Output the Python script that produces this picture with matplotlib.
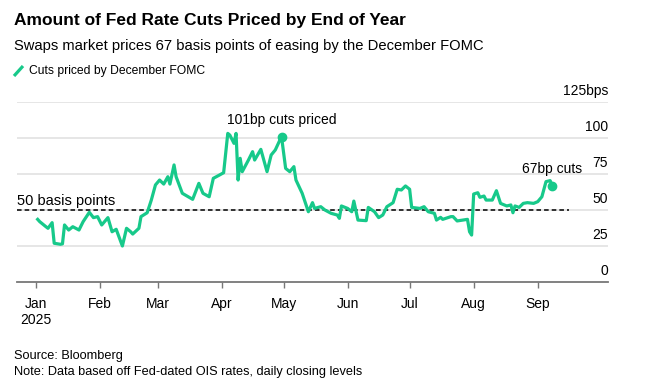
import numpy as np
import pandas as pd
import matplotlib
matplotlib.use("Agg")
import matplotlib.pyplot as plt
import matplotlib.transforms as mtransforms
from matplotlib.lines import Line2D

plt.rcParams['font.family'] = ['Liberation Sans', 'DejaVu Sans']

# daily closing levels (bp of cuts priced by Dec FOMC)
dates = [
    '2025-01-02', '2025-01-03', '2025-01-06', '2025-01-07', '2025-01-09', '2025-01-10',
    '2025-01-13', '2025-01-14', '2025-01-15', '2025-01-17', '2025-01-19', '2025-01-22',
    '2025-01-24', '2025-01-27', '2025-01-29', '2025-01-31',
    '2025-02-02', '2025-02-05', '2025-02-07', '2025-02-09', '2025-02-12', '2025-02-14',
    '2025-02-16', '2025-02-17', '2025-02-20', '2025-02-21', '2025-02-24', '2025-02-26',
    '2025-02-28',
    '2025-03-02', '2025-03-04', '2025-03-06', '2025-03-07', '2025-03-09', '2025-03-10',
    '2025-03-13', '2025-03-18', '2025-03-21', '2025-03-23', '2025-03-26', '2025-03-28',
    '2025-03-31',
    '2025-04-02', '2025-04-04', '2025-04-05', '2025-04-07', '2025-04-08', '2025-04-09',
    '2025-04-10', '2025-04-11', '2025-04-14', '2025-04-16', '2025-04-17', '2025-04-20',
    '2025-04-23', '2025-04-25', '2025-04-27', '2025-04-30',
    '2025-05-02', '2025-05-04', '2025-05-06', '2025-05-07', '2025-05-10', '2025-05-13',
    '2025-05-15', '2025-05-16', '2025-05-19', '2025-05-21', '2025-05-24', '2025-05-27',
    '2025-05-28', '2025-05-29',
    '2025-06-01', '2025-06-03', '2025-06-04', '2025-06-06', '2025-06-10', '2025-06-11',
    '2025-06-14', '2025-06-16', '2025-06-18', '2025-06-20', '2025-06-23', '2025-06-25',
    '2025-06-27', '2025-06-29',
    '2025-07-01', '2025-07-02', '2025-07-06', '2025-07-08', '2025-07-10', '2025-07-13',
    '2025-07-14', '2025-07-16', '2025-07-17', '2025-07-21', '2025-07-22', '2025-07-24',
    '2025-07-29', '2025-07-30', '2025-07-31',
    '2025-08-01', '2025-08-03', '2025-08-04', '2025-08-06', '2025-08-07', '2025-08-10',
    '2025-08-12', '2025-08-14', '2025-08-17', '2025-08-19', '2025-08-20', '2025-08-21',
    '2025-08-23', '2025-08-25', '2025-08-27', '2025-08-30',
    '2025-09-01', '2025-09-03', '2025-09-05', '2025-09-07', '2025-09-08',
]
cuts = [
    43.5, 41.9, 38.4, 37.3, 41.2, 26.9, 26.2, 26.5, 39.6, 36.1, 38.4, 36.1, 41.9, 48.4, 44.7, 45.4,
    39.6, 44.7, 34.9, 36.6, 25, 37.3, 34.9, 33.3, 37.3, 45.4, 48.1, 56.9, 67.4,
    70.8, 68, 73.1, 68, 81.3, 73.1, 61.6, 57.4, 68.5, 61.6, 59.2, 72, 74.3,
    75.9, 103.2, 102, 96.3, 103.2, 70.8, 85.9, 76.6, 84.7, 90.5, 84.7, 92.1, 76.6, 88.2, 91.7, 101,
    78.9, 76.6, 80.1, 70.8, 61.6, 48.8, 55.1, 51.1, 52.3, 50, 47.7, 46.5, 44.2, 52.8,
    51.1, 48.8, 56.2, 43, 42.6, 51.8, 48.8, 44.7, 46.5, 52.3, 55.1, 64.4, 63.9, 66.7,
    64.4, 51.8, 51.1, 52.3, 48.8, 47.7, 43, 44.9, 43.5, 45.4, 45.4, 42.4, 43.5, 34.9, 32.6,
    61.1, 62, 58.8, 59.7, 56.9, 56.9, 63.4, 54.6, 52.8, 53.5, 48.1, 52.8, 51.8, 54.6, 55.1, 54.6,
    55.8, 59.2, 69.7, 70.4, 67,
]
y_ticks = [0, 25, 50, 75, 100, 125]
y_labels = ['0', '25', '50', '75', '100', '125bps']
month_labels = ['Jan\n2025', 'Feb', 'Mar', 'Apr', 'May', 'Jun', 'Jul', 'Aug', 'Sep']

x = pd.to_datetime(dates)
green = '#17c98a'
peak = dates.index('2025-04-30')

fig = plt.figure(figsize=(6.45, 3.87), dpi=100)
ax = fig.add_axes([17 / 645, 1 - 282 / 387, (608 - 17) / 645, (282 - 102) / 387])

ax.plot(x, cuts, color=green, linewidth=2.3, solid_joinstyle='round', zorder=3)
ax.plot(x[peak], cuts[peak], 'o', color=green, markersize=6, zorder=4)
ax.plot(x[-1], cuts[-1], 'o', color=green, markersize=6, zorder=4)

ax.set_xlim(pd.Timestamp('2024-12-23'), pd.Timestamp('2025-10-05'))
ax.set_ylim(0, 125)

for t in y_ticks[1:]:
    ax.axhline(t, color='#e2e2e2', linewidth=1.2, zorder=1)
trans = mtransforms.blended_transform_factory(ax.transAxes, ax.transData)
trans = trans + mtransforms.ScaledTranslation(0, 3 / 72, fig.dpi_scale_trans)
for t, lab in zip(y_ticks, y_labels):
    ax.text(1.0, t, lab, transform=trans, ha='right', va='bottom', fontsize=10, zorder=5)

# 50bp reference
ax.plot([pd.Timestamp('2024-12-23'), pd.Timestamp('2025-09-16')], [50, 50],
        color='black', linestyle=(0, (3, 2)), linewidth=1.1, zorder=2)
ax.text(pd.Timestamp('2024-12-23'), 51.5, '50 basis points', fontsize=10.5, va='bottom', ha='left')

ax.annotate('101bp cuts priced', (x[peak], cuts[peak]), xytext=(0, 7),
            textcoords='offset points', ha='center', va='bottom', fontsize=10)
ax.annotate('67bp cuts', (x[-1], cuts[-1]), xytext=(0, 7),
            textcoords='offset points', ha='center', va='bottom', fontsize=10)

for s in ['top', 'right', 'left']:
    ax.spines[s].set_visible(False)
ax.spines['bottom'].set_color('#777777')
ax.spines['bottom'].set_linewidth(1.3)
ax.set_yticks([])
ax.set_xticks(pd.date_range('2025-01-01', '2025-09-01', freq='MS'))
ax.set_xticklabels(month_labels, fontsize=10)
ax.tick_params(axis='x', length=4, width=1, color='#777777', pad=7)

fig.text(14 / 645, 1 - 20 / 387, 'Amount of Fed Rate Cuts Priced by End of Year',
         fontsize=12.5, fontweight='bold', va='center', ha='left')
fig.text(14 / 645, 1 - 46 / 387, 'Swaps market prices 67 basis points of easing by the December FOMC',
         fontsize=10.6, va='center', ha='left')
fig.add_artist(Line2D([14 / 645, 23 / 645], [1 - 76 / 387, 1 - 66 / 387], color=green,
                      linewidth=2.3, solid_capstyle='butt'))
fig.text(29 / 645, 1 - 71 / 387, 'Cuts priced by December FOMC', fontsize=8.7,
         va='center', ha='left')
fig.text(14 / 645, 1 - 356 / 387, 'Source: Bloomberg', fontsize=9.2, va='center', ha='left')
fig.text(14 / 645, 1 - 372 / 387, 'Note: Data based off Fed-dated OIS rates, daily closing levels',
         fontsize=9.2, va='center', ha='left')

fig.savefig('out.png', dpi=100)
